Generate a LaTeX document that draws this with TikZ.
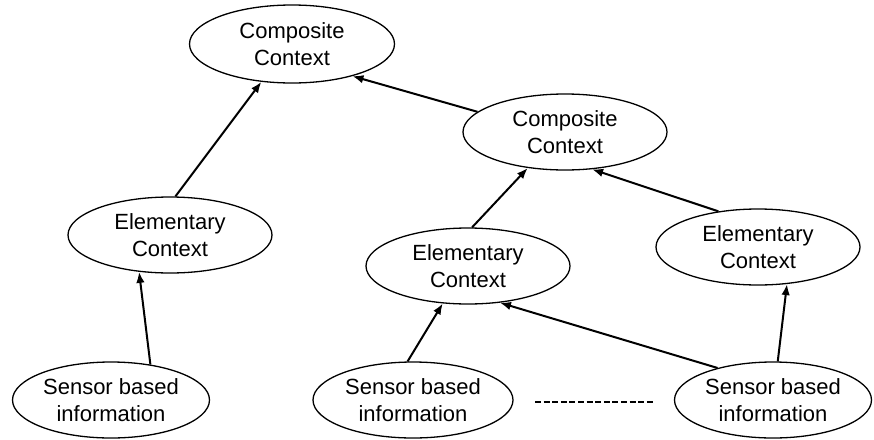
\documentclass[tikz,border=0pt]{standalone}
\usepackage{fontspec}
\setmainfont{Liberation Sans}
\usetikzlibrary{shapes.geometric,arrows.meta}
\begin{document}
\begin{tikzpicture}[x=1pt,y=-1pt,
  ctx/.style={ellipse,draw=black,line width=1.3pt,inner sep=0pt,
    minimum width=204pt,minimum height=76pt,align=center,
    font=\fontsize{22}{27}\selectfont},
  link/.style={line width=2pt,-{Latex[length=11pt,width=8.5pt]}},
  dots/.style={line width=2.6pt,dash pattern=on 6pt off 2.6pt}]
\useasboundingbox (0,0) rectangle (874,439);
\node[ctx,minimum width=205pt,minimum height=78pt] (C1) at (292,44) {Composite\\Context};
\node[ctx,minimum width=204pt] (C2) at (565,132) {Composite\\Context};
\node[ctx] (E1) at (170,235) {Elementary\\Context};
\node[ctx] (E2) at (468,266) {Elementary\\Context};
\node[ctx] (E3) at (758,247) {Elementary\\Context};
\node[ctx,minimum width=197pt] (S1) at (111,400) {Sensor based\\information};
\node[ctx,minimum width=200pt] (S2) at (413,400) {Sensor based\\information};
\node[ctx,minimum width=197pt] (S3) at (773,400) {Sensor based\\information};
\draw[link] (E1.82) -- (C1.-129);
\draw[link] (C2.167) -- (C1.-28);
\draw[link] (S1.42) -- (E1.-130);
\draw[link] (E2.84) -- (C2.-136);
\draw[link] (E3.138) -- (C2.-54);
\draw[link] (S2.98) -- (E2.-124);
\draw[link] (S3.150) -- (E2.-49);
\draw[link] (S3.83) -- (E3.-52);
\coordinate (d1) at (535,402);
\coordinate (d2) at (655,402);
\draw[dots] (d1) -- (d2);
\end{tikzpicture}
\end{document}
